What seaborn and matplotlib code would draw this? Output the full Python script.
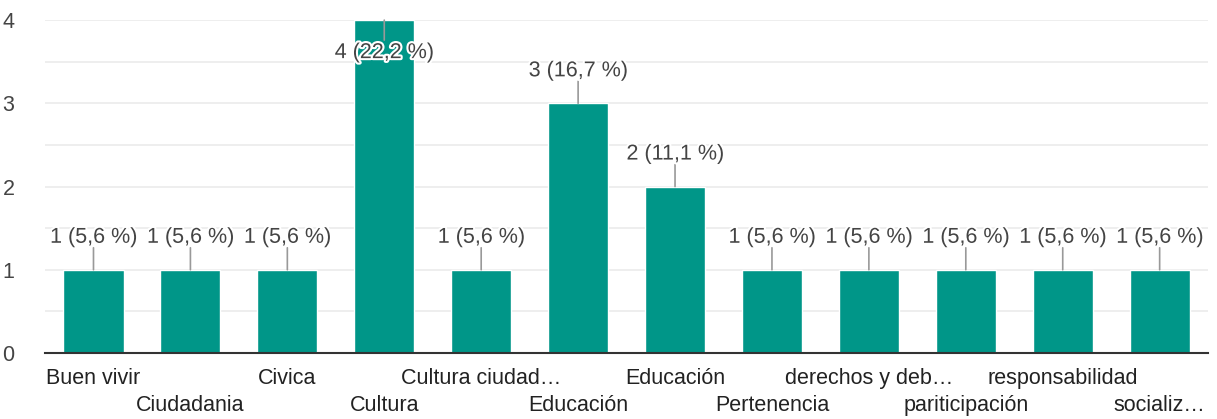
import numpy as np
import pandas as pd
import matplotlib.pyplot as plt
import matplotlib.patheffects as pe
import seaborn as sns

# Datos del gráfico (respuestas por categoría)
categorias = ["Buen vivir", "Ciudadania", "Civica", "Cultura", "Cultura ciudad…",
              "Educación", "Educación", "Pertenencia", "derechos y deb…",
              "pariticipación", "responsabilidad", "socializ…"]
respuestas = [1, 1, 1, 4, 1, 3, 2, 1, 1, 1, 1, 1]
etiquetas = ["1 (5,6 %)", "1 (5,6 %)", "1 (5,6 %)", "4 (22,2 %)", "1 (5,6 %)",
             "3 (16,7 %)", "2 (11,1 %)", "1 (5,6 %)", "1 (5,6 %)", "1 (5,6 %)",
             "1 (5,6 %)", "1 (5,6 %)"]
y_ticks = [0, 1, 2, 3, 4]

sns.set_theme(style="white")
plt.rcParams["font.family"] = ["Liberation Sans", "DejaVu Sans"]

df = pd.DataFrame({"pos": range(len(categorias)), "n": respuestas})

fig = plt.figure(figsize=(12.17, 4.19), dpi=100)
ax = fig.add_axes([0.037, 0.1575, 0.9557, 0.7945])

# Rejilla
for y in np.arange(0.5, 4.01, 0.5):
    ax.axhline(y, color="#ebebeb", lw=1.2, zorder=0)

sns.barplot(data=df, x="pos", y="n", color="#009688", saturation=1,
            width=0.62, ax=ax, zorder=2)

ax.set_xlim(-0.5, len(categorias) - 0.5)
ax.set_ylim(0, 4)
ax.set_yticks(y_ticks)
ax.set_yticklabels([str(t) for t in y_ticks])
ax.set_xlabel("")
ax.set_ylabel("")
ax.tick_params(axis="y", length=0, pad=22, labelsize=15.5, labelcolor="#444444")
ax.tick_params(axis="x", length=0, pad=11, labelsize=15.5, labelcolor="#222222")

# Etiquetas del eje x en dos filas alternadas
ax.set_xticks(range(len(categorias)))
ax.set_xticklabels(categorias)
for i, tick in enumerate(ax.xaxis.get_major_ticks()):
    if i % 2 == 1:
        tick.set_pad(30)

for s in ["top", "right", "left"]:
    ax.spines[s].set_visible(False)
ax.spines["bottom"].set_color("#333333")
ax.spines["bottom"].set_linewidth(1.5)
ax.spines["bottom"].set_zorder(3)

# Etiquetas de valor con línea guía
halo = [pe.withStroke(linewidth=3, foreground="white")]
for i, (v, lab) in enumerate(zip(respuestas, etiquetas)):
    if v >= 4:
        ax.annotate("", xy=(i, v), xytext=(0, -20), textcoords="offset pixels",
                    arrowprops=dict(arrowstyle="-", color="#999999", lw=1.2,
                                    shrinkA=0, shrinkB=0), zorder=4)
        ax.annotate(lab, xy=(i, v), xytext=(0, -22), textcoords="offset pixels",
                    ha="center", va="top", fontsize=15.5, color="#444444",
                    path_effects=halo, zorder=5)
    else:
        ax.annotate("", xy=(i, v), xytext=(0, 22), textcoords="offset pixels",
                    arrowprops=dict(arrowstyle="-", color="#999999", lw=1.2,
                                    shrinkA=0, shrinkB=0), zorder=4)
        ax.annotate(lab, xy=(i, v), xytext=(0, 22), textcoords="offset pixels",
                    ha="center", va="bottom", fontsize=15.5, color="#444444",
                    path_effects=halo, zorder=5)

fig.savefig("out.png", dpi=100)
